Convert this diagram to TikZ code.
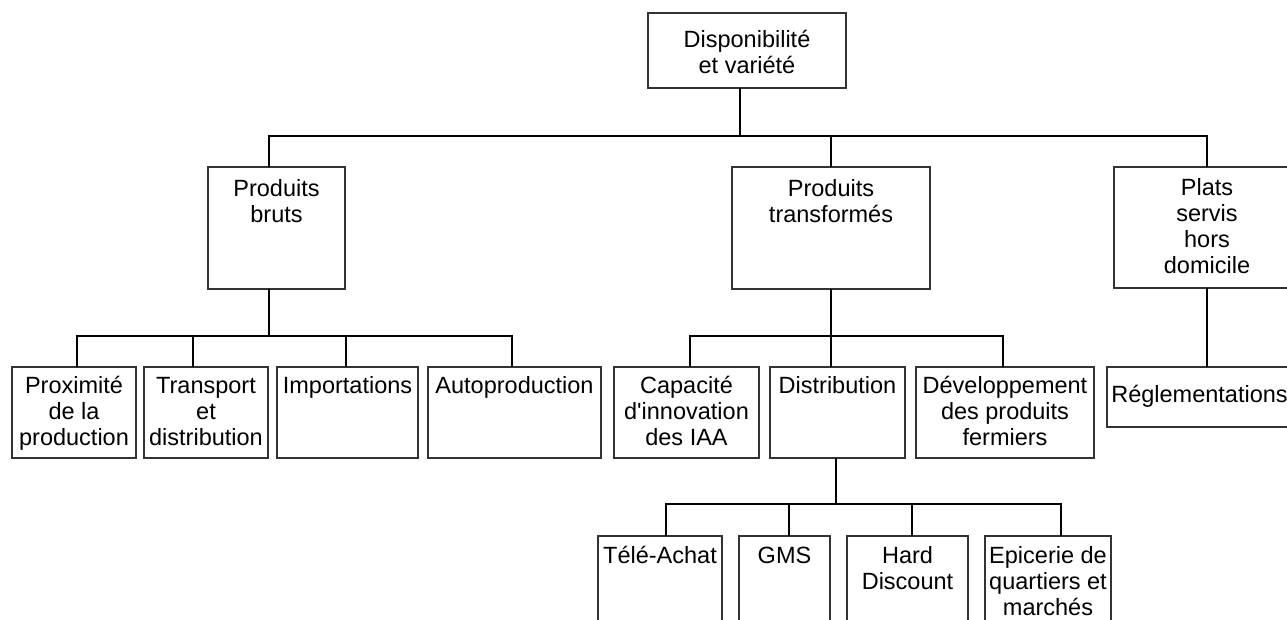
\documentclass[tikz,border=0pt]{standalone}
\usepackage{fontspec}
\setmainfont{Liberation Sans}
\newcommand\bt[4]{\parbox[c][#2pt][t]{#1pt}{\centering\rule{0pt}{#3pt}#4\par}}
\tikzset{
  bx/.style={draw=black!80, line width=1.1pt, inner sep=0pt, outer sep=0pt, fill=white,
    font=\fontsize{23.5}{26}\selectfont},
  ln/.style={line width=1.6pt, black}
}
\begin{document}
\begin{tikzpicture}[x=1pt,y=-1pt]
\useasboundingbox (0,0) rectangle (1287,619);
\clip (0,0) rectangle (1287,619);
\fill[white] (0,0) rectangle (1287,619);
% level 0
\node[bx] (root) at (747,50.5) {\bt{198}{75}{34}{Disponibilité\\et variété}};
% level 1
\node[bx] (pb) at (276.5,228) {\bt{137}{122}{29}{Produits\\bruts}};
\node[bx] (pt) at (831,228) {\bt{198}{122}{29}{Produits\\transformés}};
\node[bx] (pl) at (1207,227.5) {\bt{186}{121}{28}{Plats\\servis\\hors\\domicile}};
% level 2
\node[bx] (prox) at (74,412.5) {\bt{124}{91}{26}{Proximité\\de la\\production}};
\node[bx] (trans) at (206,412.5) {\bt{124}{91}{26}{Transport\\et\\distribution}};
\node[bx] (imp) at (347.5,412.5) {\bt{141}{91}{26}{Importations}};
\node[bx] (auto) at (514.5,412.5) {\bt{173}{91}{26}{Autoproduction}};
\node[bx] (cap) at (686.5,412.5) {\bt{145}{91}{26}{Capacité\\d\textquotesingle innovation\\des IAA}};
\node[bx] (dist) at (837.5,412.5) {\bt{135}{91}{26}{Distribution}};
\node[bx] (dev) at (1005,412.5) {\bt{178}{91}{26}{Développement\\des produits\\fermiers}};
\node[bx] (regl) at (1199.5,397) {\bt{185}{60}{35}{Réglementations}};
% level 3
\node[bx] (tele) at (660,593) {\bt{124}{114}{27}{Télé-Achat}};
\node[bx] (gms) at (784.5,593) {\bt{91}{114}{27}{GMS}};
\node[bx] (hard) at (907.5,593) {\bt{121}{114}{27}{Hard\\Discount}};
\node[bx] (epic) at (1048,593) {\bt{126}{114}{27}{Epicerie de\\quartiers et\\marchés}};
% bus coordinates
\coordinate (b0) at (740,136);
\coordinate (b1) at (269,336);
\coordinate (b2) at (831,336);
\coordinate (b3) at (836,504);
% connectors level 0 -> 1
\draw[ln] (root.south -| b0) -- (b0);
\draw[ln] (pb.north -| b1) |- (b0) -| (pl.north);
\draw[ln] (b0) -| (pt.north);
% pb -> children
\draw[ln] (pb.south -| b1) -- (b1);
\draw[ln] (b1) -| ([xshift=3pt]prox.north);
\draw[ln] (b1) -| ([xshift=-13pt]trans.north);
\draw[ln] (b1) -| ([xshift=-1.5pt]imp.north);
\draw[ln] (b1) -| ([xshift=-2.5pt]auto.north);
% pt -> children
\draw[ln] (pt.south) -- (b2);
\draw[ln] (b2) -| ([xshift=3.5pt]cap.north);
\draw[ln] (b2) -| ([xshift=-6.5pt]dist.north);
\draw[ln] (b2) -| ([xshift=-2pt]dev.north);
% pl -> regl
\draw[ln] (pl.south) -- (pl.south |- regl.north);
% dist -> children
\draw[ln] (dist.south -| b3) -- (b3);
\draw[ln] (b3) -| ([xshift=6pt]tele.north);
\draw[ln] (b3) -| ([xshift=4.5pt]gms.north);
\draw[ln] (b3) -| ([xshift=4.5pt]hard.north);
\draw[ln] (b3) -| ([xshift=13pt]epic.north);
\end{tikzpicture}
\end{document}
